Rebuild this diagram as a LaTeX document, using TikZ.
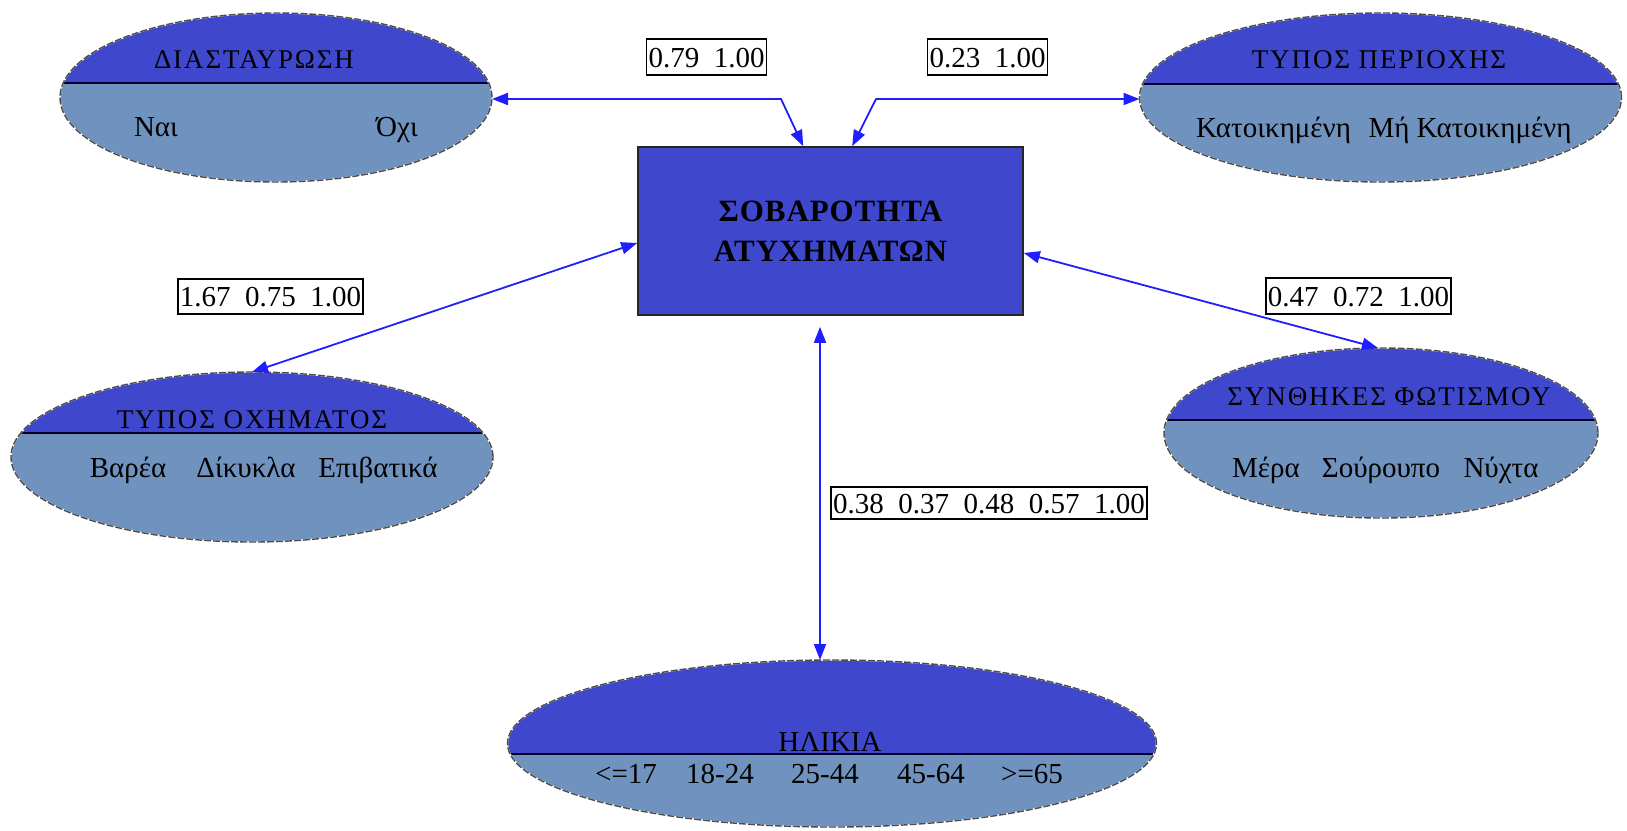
\documentclass[tikz,border=0pt]{standalone}
\usepackage{fontspec}
\setmainfont{Liberation Serif}
\newfontfamily\hdrfont{Liberation Serif}[LetterSpace=7]
\newfontfamily\boxfont{Liberation Serif}[LetterSpace=3]
\usetikzlibrary{arrows.meta,shapes.geometric,calc}

\definecolor{hdrblue}{RGB}{63,72,204}
\definecolor{valblue}{RGB}{112,146,190}
\definecolor{edgeblue}{RGB}{30,30,255}

\tikzset{
  catell/.style={ellipse, inner sep=0pt, outer sep=0pt, fill=valblue},
  ellborder/.style={draw=white, line width=1.4pt,
    postaction={draw=gray!60!black, line width=1.4pt, dash pattern=on 7pt off 2pt}},
  divline/.style={draw=black!85!blue, line width=2pt},
  hdr/.style={anchor=base, inner sep=0pt, font=\hdrfont\fontsize{27pt}{32pt}\selectfont},
  val/.style={anchor=base, inner sep=0pt, font=\fontsize{29pt}{34pt}\selectfont},
  lbl/.style={draw=black, line width=1.8pt, fill=white, inner xsep=2pt, inner ysep=8pt,
    text height=20pt, text depth=0pt, font=\fontsize{29pt}{34pt}\selectfont},
  sevbox/.style={rectangle, draw=black!85, line width=1.6pt, fill=hdrblue, align=center,
    inner sep=0pt, font=\boxfont\fontsize{31pt}{40pt}\selectfont\bfseries},
  biarrow/.style={draw=edgeblue, line width=1.8pt,
    {Triangle[length=16pt,width=12pt]}-{Triangle[length=16pt,width=12pt]}}
}

% split ellipse: name, cx, cy, rx, ry, y of the dividing line
\newcommand\catvar[6]{%
  \node[catell, minimum width={2*#4pt}, minimum height={2*#5pt}] (#1) at (#2,#3) {};
  \begin{scope}
    \clip (#1.center) ellipse [x radius=#4pt, y radius=#5pt];
    \fill[hdrblue] (#2-#4,#3-#5) rectangle (#2+#4,#6);
    \draw[divline] (#2-#4,#6) -- (#2+#4,#6);
  \end{scope}
  \draw[ellborder] (#1.center) ellipse [x radius=#4pt, y radius=#5pt];
}

\begin{document}
\begin{tikzpicture}[x=1pt,y=-1pt]
\useasboundingbox (0,0) rectangle (1627,830);

% variables
\catvar{e1}{276}{97.5}{216}{84.5}{83}
\node[hdr] (e1h) at (254,68) {ΔΙΑΣΤΑΥΡΩΣΗ};
\node[val] (e1a) at (156,136) {Ναι};
\node[val] (e1b) at (397,136) {Όχι};

\catvar{e3}{1380.5}{97.5}{241}{84.5}{84}
\node[hdr] (e3h) at (1379,68) {ΤΥΠΟΣ ΠΕΡΙΟΧΗΣ};
\node[val] (e3a) at (1273.5,137) {Κατοικημένη};
\node[val] (e3b) at (1470,137) {Μή Κατοικημένη};

\catvar{e4}{252}{457}{241}{85}{433}
\node[hdr] (e4h) at (252,428) {ΤΥΠΟΣ ΟΧΗΜΑΤΟΣ};
\node[val] (e4a) at (128,477) {Βαρέα};
\node[val] (e4b) at (246,477) {Δίκυκλα};
\node[val] (e4c) at (378,477) {Επιβατικά};

\catvar{e5}{1381}{433}{217}{85}{420}
\node[hdr] (e5h) at (1389,405) {ΣΥΝΘΗΚΕΣ ΦΩΤΙΣΜΟΥ};
\node[val] (e5a) at (1266,477) {Μέρα};
\node[val] (e5b) at (1381,477) {Σούρουπο};
\node[val] (e5c) at (1501,477) {Νύχτα};

\catvar{e6}{832}{743.5}{324.5}{83.5}{754}
\node[val] (e6h) at (830,751) {ΗΛΙΚΙΑ};
\node[val] (e6a) at (626,783) {<=17};
\node[val] (e6b) at (720,783) {18-24};
\node[val] (e6c) at (825,783) {25-44};
\node[val] (e6d) at (931,783) {45-64};
\node[val] (e6e) at (1032,783) {>=65};

% target
\node[sevbox, minimum width=385pt, minimum height=168pt] (box) at (830.5,231)
  {ΣΟΒΑΡΟΤΗΤΑ\\ΑΤΥΧΗΜΑΤΩΝ};

% connectors
\coordinate (kA) at (781,99);
\coordinate (kB) at (876,99);
\coordinate (bA) at ($(box.north west)+(166,0)$);
\coordinate (bB) at ($(box.north west)+(215,0)$);
\coordinate (eE) at ($(box.south)+(-10.5,11)$);

\draw[biarrow] (e1.east |- kA) -- (kA) -- (bA);
\draw[biarrow] (bB) -- (kB) -- (e3.west |- kB);
\draw[biarrow] ([yshift=-12pt]box.west) -- (e4.north);
\draw[biarrow] ([yshift=-22pt]box.east) -- ([xshift=-3pt]e5.north);
\draw[biarrow] (eE) -- (eE |- e6.north);

% coefficient labels
\node[lbl] (l1) at (706.5,57) {0.79\ \ 1.00};
\node[lbl] (l2) at (987.5,57) {0.23\ \ 1.00};
\node[lbl, inner ysep=7.5pt] (l3) at (270.5,296.5) {1.67\ \ 0.75\ \ 1.00};
\node[lbl] (l4) at (1358.5,296) {0.47\ \ 0.72\ \ 1.00};
\node[lbl, inner ysep=6pt] (l5) at (989,503) {0.38\ \ 0.37\ \ 0.48\ \ 0.57\ \ 1.00};
\end{tikzpicture}
\end{document}
